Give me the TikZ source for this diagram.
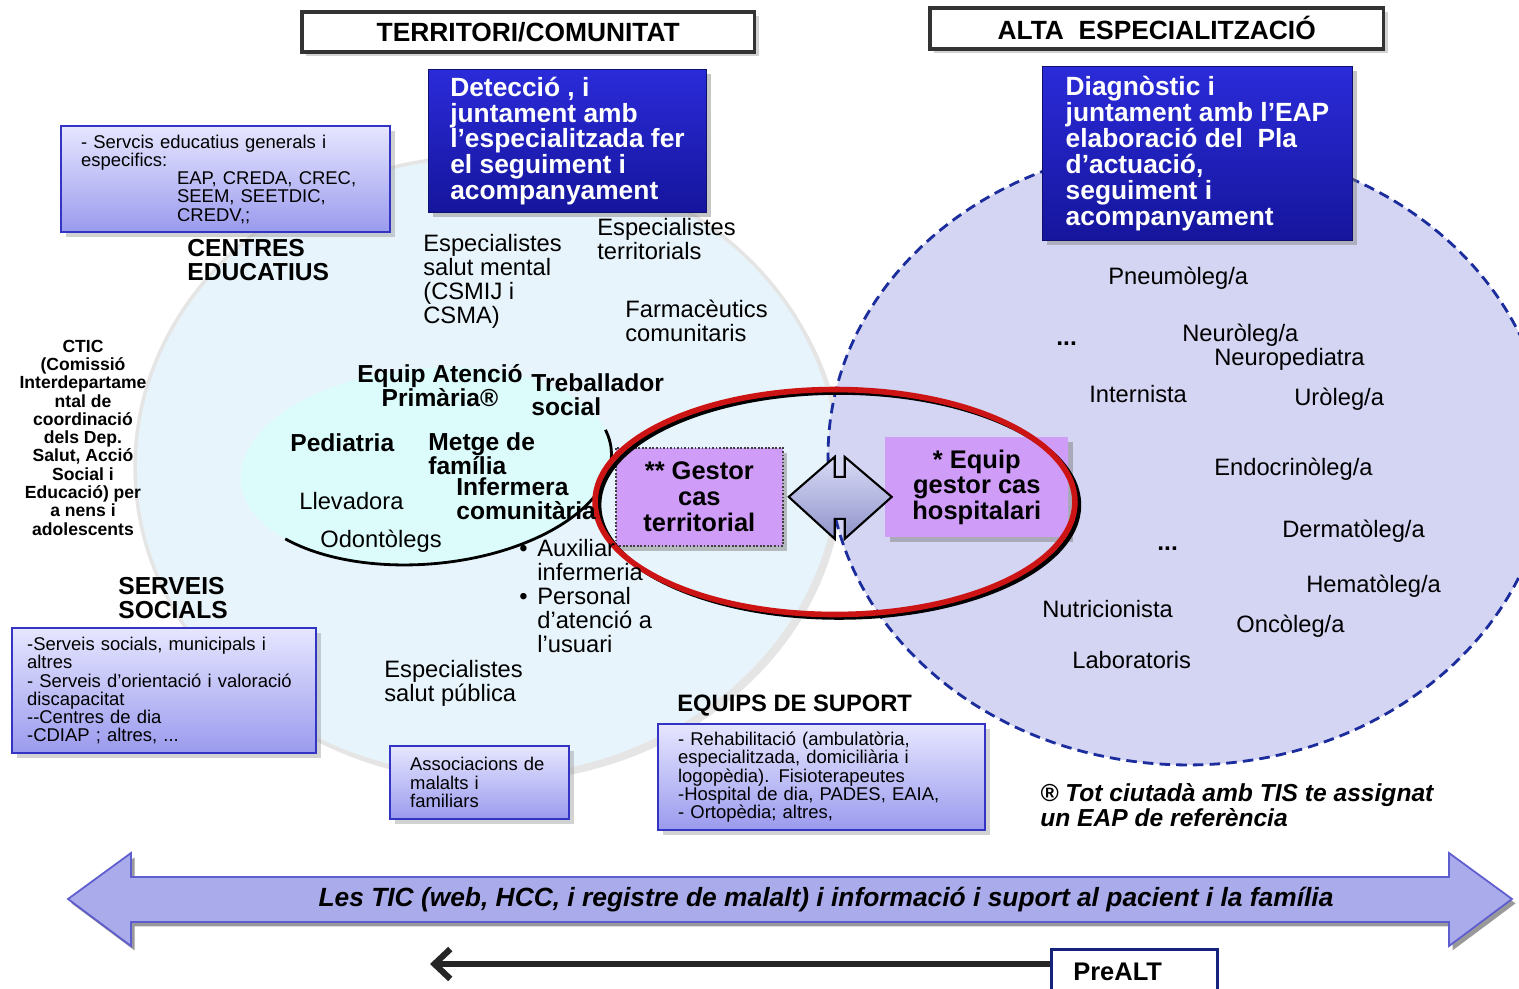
\documentclass[tikz,border=0pt]{standalone}
\usepackage{fontspec}
\setmainfont{Liberation Sans}
\usetikzlibrary{positioning,shadows,arrows.meta}

\definecolor{terrblue}{HTML}{E8F4FB}
\definecolor{altalila}{HTML}{D4D4F3}
\definecolor{eapcyan}{HTML}{DCFCFC}
\definecolor{gestlila}{HTML}{CF9CF7}
\definecolor{boxtop}{HTML}{E6E6FF}
\definecolor{boxbot}{HTML}{9A9AEE}
\definecolor{boxedge}{HTML}{3434C4}
\definecolor{deeptop}{HTML}{2B2BD9}
\definecolor{deepbot}{HTML}{15159C}
\definecolor{dashnavy}{HTML}{1B2C9C}
\definecolor{ticlila}{HTML}{A9ABEA}
\definecolor{ringred}{HTML}{CC1414}
\definecolor{swaptop}{HTML}{D9DBF6}
\definecolor{swapbot}{HTML}{8F93C9}

\tikzset{
  lbl/.style={inner sep=0pt, anchor=base west, align=left, font=\fontsize{13.5}{13.6}\selectfont},
  blbl/.style={lbl, font=\fontsize{14}{13.6}\selectfont\bfseries},
  titlebox/.style={draw=black!80, line width=2pt, fill=white, drop shadow={opacity=0.35},
    anchor=north west, inner sep=0pt, font=\fontsize{15}{15}\selectfont\bfseries},
  deepbox/.style={top color=deeptop, bottom color=deepbot, draw=deepbot!70!black, line width=0.6pt,
    drop shadow={opacity=0.45}, anchor=north west, inner sep=0pt,
    align=left, text=white, font=\fontsize{15}{14.7}\selectfont\bfseries},
  lilabox/.style={top color=boxtop, bottom color=boxbot, draw=boxedge, line width=1.3pt,
    drop shadow={opacity=0.35}, anchor=north west, inner xsep=0.4cm, inner ysep=0pt,
    align=left, font=\fontsize{10.5}{10.4}\selectfont},
  gestbox/.style={fill=gestlila, drop shadow={opacity=0.5}, anchor=north west, inner sep=0pt,
    align=center, font=\fontsize{14.5}{14.7}\selectfont\bfseries},
}

\begin{document}
\begin{tikzpicture}[x=0.02cm, y=-0.02cm]
\fill[white] (0,0) rectangle (1519,988);
\useasboundingbox (0,0) rectangle (1519,988);

% territori i alta especialitzacio
\draw[fill=terrblue, draw=black!10, line width=2pt, drop shadow={opacity=0.2}] (487,467) ellipse [x radius=7.04cm, y radius=6.22cm];
\draw[fill=altalila, draw=dashnavy, line width=1.6pt, dash pattern=on 6pt off 3.5pt] (1188,455) ellipse [x radius=7.2cm, y radius=6.2cm];

% equip d'atencio primaria
\fill[eapcyan, rotate around={5:(426,466)}] (426,466) ellipse [x radius=3.72cm, y radius=1.96cm];
\draw[line width=1.6pt, rotate around={5:(426,466)}] (426,466) ++(218:3.72cm and 1.96cm) arc [start angle=218, end angle=372, x radius=3.72cm, y radius=1.96cm];

% gestors de cas
\node[gestbox, draw=black!75, densely dotted, line width=1pt, minimum width=3.34cm, minimum height=1.96cm] (gestter) at (615,447) {** Gestor\\cas\\territorial};
\node[gestbox, minimum width=3.66cm, minimum height=2cm] (gesthosp) at (885,437) {* Equip\\gestor cas\\hospitalari};
\draw[top color=swaptop, bottom color=swapbot, draw=black, line width=1.2pt]
  ([xshift=0.1cm]gestter.east) -- ++(46,-40) -- ++(0,20) -- ++(10,0) -- ++(0,-20) -- ++(47,40)
  -- ++(-47,42) -- ++(0,-20) -- ++(-10,0) -- ++(0,20) -- cycle;

\draw[line width=2.6pt, black] (839,505) ellipse [x radius=4.8cm, y radius=2.25cm];
\draw[line width=3.2pt, ringred] (835,502) ellipse [x radius=4.8cm, y radius=2.25cm];

% textos del territori
\node[blbl] (eduhead) at (187,280) {CENTRES\\EDUCATIUS};
\node[inner sep=0pt, anchor=base, align=center, font=\fontsize{10}{10.4}\selectfont\bfseries] (ctic) at (83,535)
  {CTIC\\(Comissió\\Interdepartame\\ntal de\\coordinació\\dels Dep.\\Salut, Acció\\Social i\\Educació) per\\a nens i\\adolescents};
\node[blbl] (socihead) at (118,618) {SERVEIS\\SOCIALS};
\node[lbl] (mental) at (423,323) {Especialistes\\salut mental\\(CSMIJ i\\CSMA)};
\node[lbl] (territ) at (597,259) {Especialistes\\territorials};
\node[lbl] (farma) at (625,341) {Farmacèutics\\comunitaris};
\node[blbl, anchor=base, align=center] (eaphead) at (440,406) {Equip Atenció\\Primària®};
\node[blbl] (treball) at (531,415) {Treballador\\social};
\node[blbl] (pedia) at (290,451) {Pediatria};
\node[blbl] (metge) at (428,474) {Metge de\\família};
\node[blbl] (inferm) at (456,519) {Infermera\\comunitària};
\node[lbl] (lleva) at (299,509) {Llevadora};
\node[lbl] (odonto) at (320,547) {Odontòlegs};
\node[lbl] (auxil) at (537,652) {\llap{\textbullet\hspace{5.5pt}}Auxiliar\\infermeria\\\llap{\textbullet\hspace{5.5pt}}Personal\\d’atenció a\\l’usuari};
\node[lbl] (publica) at (384,701) {Especialistes\\salut pública};
\node[blbl, font=\fontsize{13.5}{13.6}\selectfont\bfseries] (suport) at (677,711) {EQUIPS DE SUPORT};

% textos de l'alta especialitzacio
\node[lbl] (pneumo) at (1108,284) {Pneumòleg/a};
\node[blbl] (dotsa) at (1056,345) {...};
\node[lbl] (neuro) at (1182,341) {Neuròleg/a};
\node[lbl] (neuroped) at (1214,365) {Neuropediatra};
\node[lbl] (intern) at (1089,402) {Internista};
\node[lbl] (uro) at (1294,405) {Uròleg/a};
\node[lbl] (endo) at (1214,475) {Endocrinòleg/a};
\node[lbl] (derma) at (1282,537) {Dermatòleg/a};
\node[blbl] (dotsb) at (1157,550) {...};
\node[lbl] (hemato) at (1306,592) {Hematòleg/a};
\node[lbl] (nutri) at (1042,617) {Nutricionista};
\node[lbl] (onco) at (1236,632) {Oncòleg/a};
\node[lbl] (labo) at (1072,668) {Laboratoris};
\node[lbl, font=\fontsize{14}{13}\selectfont\bfseries\itshape] (assign) at (1040,826) {® Tot  ciutadà amb TIS te assignat\\un EAP de referència};

% caixes de serveis
\node[lilabox, text width=5.78cm, minimum height=2.12cm] (educ) at (60,125)
  {- Servcis educatius generals i\\especifics:\\\hspace*{1.92cm}EAP, CREDA, CREC,\\\hspace*{1.92cm}SEEM, SEETDIC,\\\hspace*{1.92cm}CREDV,;};
\node[lilabox, inner xsep=0.3cm, text width=5.48cm, minimum height=2.5cm] (socials) at (11,627)
  {-Serveis socials, municipals i\\altres\\- Serveis d'orientació i valoració\\discapacitat\\{-}{-}Centres de dia\\-CDIAP ; altres, ...};
\node[lilabox, text width=2.78cm, minimum height=1.46cm] (assoc) at (389,745)
  {Associacions de\\malalts i\\familiars};
\node[lilabox, text width=5.74cm, minimum height=2.12cm] (rehab) at (657,723)
  {- Rehabilitació (ambulatòria,\\especialitzada, domiciliària i\\logopèdia). Fisioterapeutes\\-Hospital de dia, PADES, EAIA,\\- Ortopèdia; altres,};

% capcaleres
\node[titlebox, minimum width=9.06cm, minimum height=0.8cm] (territori) at (300,10) {TERRITORI/COMUNITAT};
\node[titlebox, minimum width=9.08cm, minimum height=0.82cm] (alta) at (928,6) {ALTA\ \ ESPECIALITZACIÓ};
\node[deepbox, minimum width=5.56cm, minimum height=2.86cm] (detect) at (428,69)
  {Detecció , i\\juntament amb\\l’especialitzada fer\\el seguiment i\\acompanyament};
\node[deepbox, minimum width=6.2cm, minimum height=3.48cm] (diagn) at (1042,66)
  {Diagnòstic i\\juntament amb l’EAP\\elaboració del\ \ Pla\\d'actuació,\\seguiment i\\acompanyament};

% TIC i PreALT
\draw[fill=ticlila, draw=boxedge!80, line width=1pt, drop shadow={opacity=0.8, shadow xshift=2pt, shadow yshift=-2.5pt}]
  (68,899) -- (131,853) -- (131,877) -- (1449,877) -- (1449,853) -- (1512,899) -- (1449,946) -- (1449,922) -- (131,922) -- (131,946) -- cycle;
\node[inner sep=0pt, font=\fontsize{15}{15}\selectfont\bfseries\itshape] (tic) at (826,900)
  {Les TIC (web, HCC, i registre de malalt) i informació i suport al pacient i la família};
\node[draw=dashnavy!80!black, line width=1.5pt, fill=white, anchor=north west, inner xsep=0.44cm, text width=2.44cm,
  minimum height=0.9cm, align=left, font=\fontsize{14.5}{15}\selectfont\bfseries] (prealt) at (1050,948) {PreALT};
\coordinate (prealtend) at (430,964);
\draw[line width=3.5pt, black!85, -{Straight Barb[length=9pt, width=17pt]}] (prealt.west |- prealtend) -- (prealtend);
\end{tikzpicture}
\end{document}
